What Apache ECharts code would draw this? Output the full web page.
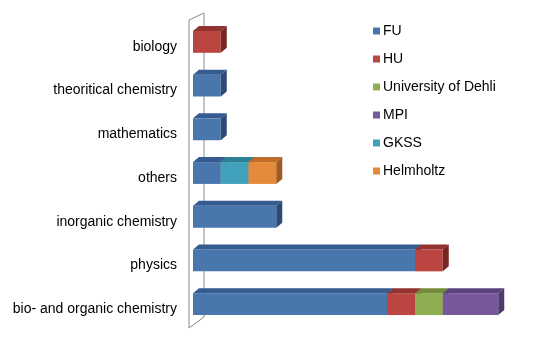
<!DOCTYPE html>
<html>
<head>
<meta charset="utf-8">
<script src="https://cdn.jsdelivr.net/npm/echarts@6/dist/echarts.min.js"></script>
<style>html,body{margin:0;padding:0;background:#fff}#c{width:550px;height:341px}</style>
</head>
<body>
<div id="c"></div>
<script>
// Categories, top to bottom as shown
var categories = ['biology', 'theoritical chemistry', 'mathematics', 'others', 'inorganic chemistry', 'physics', 'bio- and organic chemistry'];
var seriesNames = ['FU', 'HU', 'University of Dehli', 'MPI', 'GKSS', 'Helmholtz'];
var FU        = [0, 1, 1, 1, 3, 8, 7];
var HU        = [1, 0, 0, 0, 0, 1, 1];
var Dehli     = [0, 0, 0, 0, 0, 0, 1];
var MPI       = [0, 0, 0, 0, 0, 0, 2];
var GKSS      = [0, 0, 0, 1, 0, 0, 0];
var Helmholtz = [0, 0, 0, 1, 0, 0, 0];
var seriesValues = [FU, HU, Dehli, MPI, GKSS, Helmholtz];

var faceColors = [
  ['#4A76AE', '#355C90', '#2B4B76'],
  ['#BA4541', '#943230', '#782624'],
  ['#8FAE52', '#728C3C', '#5D7430'],
  ['#76589B', '#5A427C', '#4E3A6C'],
  ['#41A0BA', '#2F7F95', '#27697C'],
  ['#E5893B', '#BF6D2B', '#A35A22']
];
var DX = 6, DY = -5;

var chart = echarts.init(document.getElementById('c'), null, {renderer: 'canvas'});

// cumulative starts
var starts = seriesValues.map(function () { return categories.map(function () { return 0; }); });
for (var c = 0; c < categories.length; c++) {
  var acc = 0;
  for (var s = 0; s < seriesValues.length; s++) {
    starts[s][c] = acc;
    acc += seriesValues[s][c];
  }
}

function makeSeries(si) {
  var data = categories.map(function (cat, ci) {
    return [starts[si][ci], starts[si][ci] + seriesValues[si][ci], ci];
  });
  return {
    type: 'custom',
    name: seriesNames[si],
    itemStyle: {color: faceColors[si][0]},
    encode: {x: [0, 1], y: 2},
    z: 3,
    renderItem: function (params, api) {
      var x0v = api.value(0), x1v = api.value(1), ci = api.value(2);
      if (x1v - x0v <= 0) return null;
      var p0 = api.coord([x0v, ci]);
      var p1 = api.coord([x1v, ci]);
      var bh = api.size([0, 1])[1] * 0.5;
      var yT = p0[1] - bh / 2, yB = p0[1] + bh / 2;
      var xl = p0[0], xr = p1[0];
      var cols = faceColors[si];
      return {
        type: 'group',
        children: [
          {type: 'polygon', shape: {points: [[xl, yT], [xr, yT], [xr, yB], [xl, yB]]}, style: {fill: cols[0]}},
          {type: 'polygon', shape: {points: [[xl, yT], [xl + DX, yT + DY], [xr + DX, yT + DY], [xr, yT]]}, style: {fill: cols[1]}},
          {type: 'polygon', shape: {points: [[xr, yT], [xr + DX, yT + DY], [xr + DX, yB + DY], [xr, yB]]}, style: {fill: cols[2]}}
        ]
      };
    },
    data: data
  };
}

var series = [{
  type: 'custom',
  name: 'wall',
  silent: true,
  z: 1,
  renderItem: function (params, api) {
    var top = api.coord([0, 0]);
    var bot = api.coord([0, categories.length - 1]);
    var half = api.size([0, 1])[1] / 2;
    var yTop = top[1] - half, yBot = bot[1] + half + 2;
    var xf = top[0] - 4, xb = top[0] + 11;
    return {
      type: 'group',
      children: [
        {type: 'polyline', shape: {points: [[xb, yBot - 11], [xb, yTop - 7], [xf, yTop], [xf, yBot], [xb, yBot - 11]]},
         style: {stroke: '#8C8C8C', lineWidth: 1, fill: null}}
      ]
    };
  },
  data: [[0, 0]]
}];
for (var i = 0; i < seriesNames.length; i++) series.push(makeSeries(i));

chart.setOption({
  animation: false,
  backgroundColor: '#fff',
  grid: {left: 193, right: 24, top: 20, bottom: 15},
  legend: {
    orient: 'vertical',
    left: 368,
    top: 19,
    itemGap: 14,
    itemWidth: 7,
    itemHeight: 7,
    icon: 'rect',
    data: seriesNames,
    textStyle: {fontFamily: 'Liberation Sans, Arial, sans-serif', fontSize: 14, color: '#000', padding: [0, 0, 0, -2]}
  },
  xAxis: {type: 'value', min: 0, max: 12, show: false},
  yAxis: {
    type: 'category',
    inverse: true,
    data: categories,
    axisLine: {show: false},
    axisTick: {show: false},
    axisLabel: {fontFamily: 'Liberation Sans, Arial, sans-serif', fontSize: 14, color: '#000', margin: 16, verticalAlign: 'top', lineHeight: 10}
  },
  series: series
});
</script>
</body>
</html>
